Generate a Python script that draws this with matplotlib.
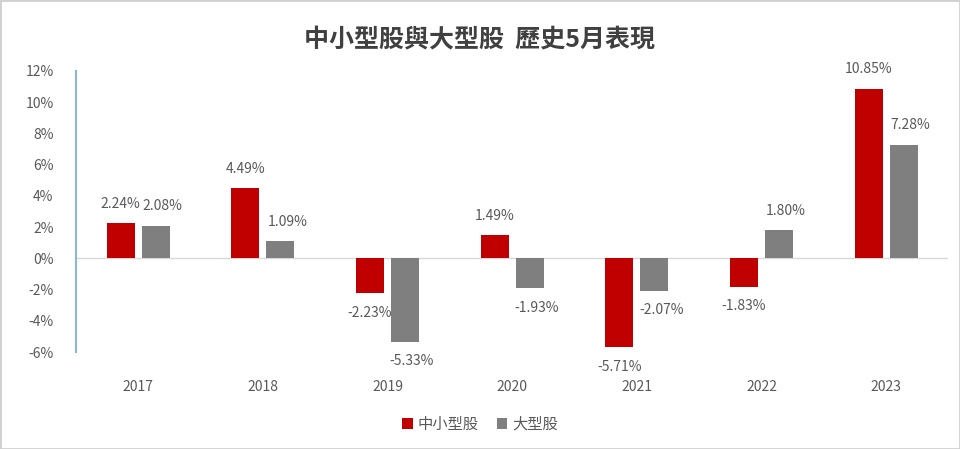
import numpy as np
import matplotlib
matplotlib.use("Agg")
import matplotlib.pyplot as plt
from matplotlib.patches import Rectangle

plt.rcParams['font.family'] = ['Noto Sans CJK TC', 'DejaVu Sans']

years = ['2017', '2018', '2019', '2020', '2021', '2022', '2023']
small_cap = [2.24, 4.49, -2.23, 1.49, -5.71, -1.83, 10.85]
large_cap = [2.08, 1.09, -5.33, -1.93, -2.07, 1.80, 7.28]
series_names = ['中小型股', '大型股']

red = '#C00000'
gray = '#7F7F7F'
txt = '#595959'

fig = plt.figure(figsize=(9.6, 4.49), dpi=100)
ax = fig.add_axes([0.079, 0.216, 0.909, 0.626])

x = np.arange(len(years))
w = 0.225
off = 0.14
b1 = ax.bar(x - off, small_cap, w, color=red, label=series_names[0], zorder=3)
b2 = ax.bar(x + off, large_cap, w, color=gray, label=series_names[1], zorder=3)

for bars, vals, dx in ((b1, small_cap, 0), (b2, large_cap, 5)):
    for rect, v in zip(bars, vals):
        cx = rect.get_x() + rect.get_width() / 2
        if v >= 0:
            dy = 14
        else:
            dy = -14
        ax.annotate(f'{v:.2f}%', (cx, v), xytext=(dx, dy), textcoords='offset points',
                    ha='center', va='center', fontsize=10, color=txt)

ax.set_xlim(-0.5, len(years) - 0.5)
ax.set_ylim(-6, 12)
ax.set_yticks(np.arange(-6, 13, 2))
ax.set_yticklabels([f'{t}%' for t in range(-6, 13, 2)], fontsize=10, color=txt)
ax.set_xticks(x)
ax.set_xticklabels(years, fontsize=10, color=txt)
ax.tick_params(length=0)
ax.tick_params(axis='y', pad=16)
ax.tick_params(axis='x', pad=20)

for s in ['top', 'right', 'bottom']:
    ax.spines[s].set_visible(False)
ax.spines['left'].set_color('#8DB4D9')
ax.spines['left'].set_linewidth(1.5)
ax.axhline(0, color='#D9D9D9', lw=1, zorder=2)

# title
fig.text(0.5, 0.91, '中小型股與大型股  歷史5月表現', ha='center', va='center',
         fontsize=18, color='#404040', fontweight='bold')

fig.legend(handles=[b1, b2], loc='center', bbox_to_anchor=(0.5, 0.055), ncol=2,
           frameon=False, fontsize=11, handlelength=0.7, handleheight=0.7,
           handletextpad=0.3, columnspacing=1.2, labelcolor=txt)

fig.patches.append(Rectangle((0, 0), 1, 1, transform=fig.transFigure, fill=False,
                             edgecolor='#D0D0D0', lw=2))

fig.savefig('out.png', dpi=100)
